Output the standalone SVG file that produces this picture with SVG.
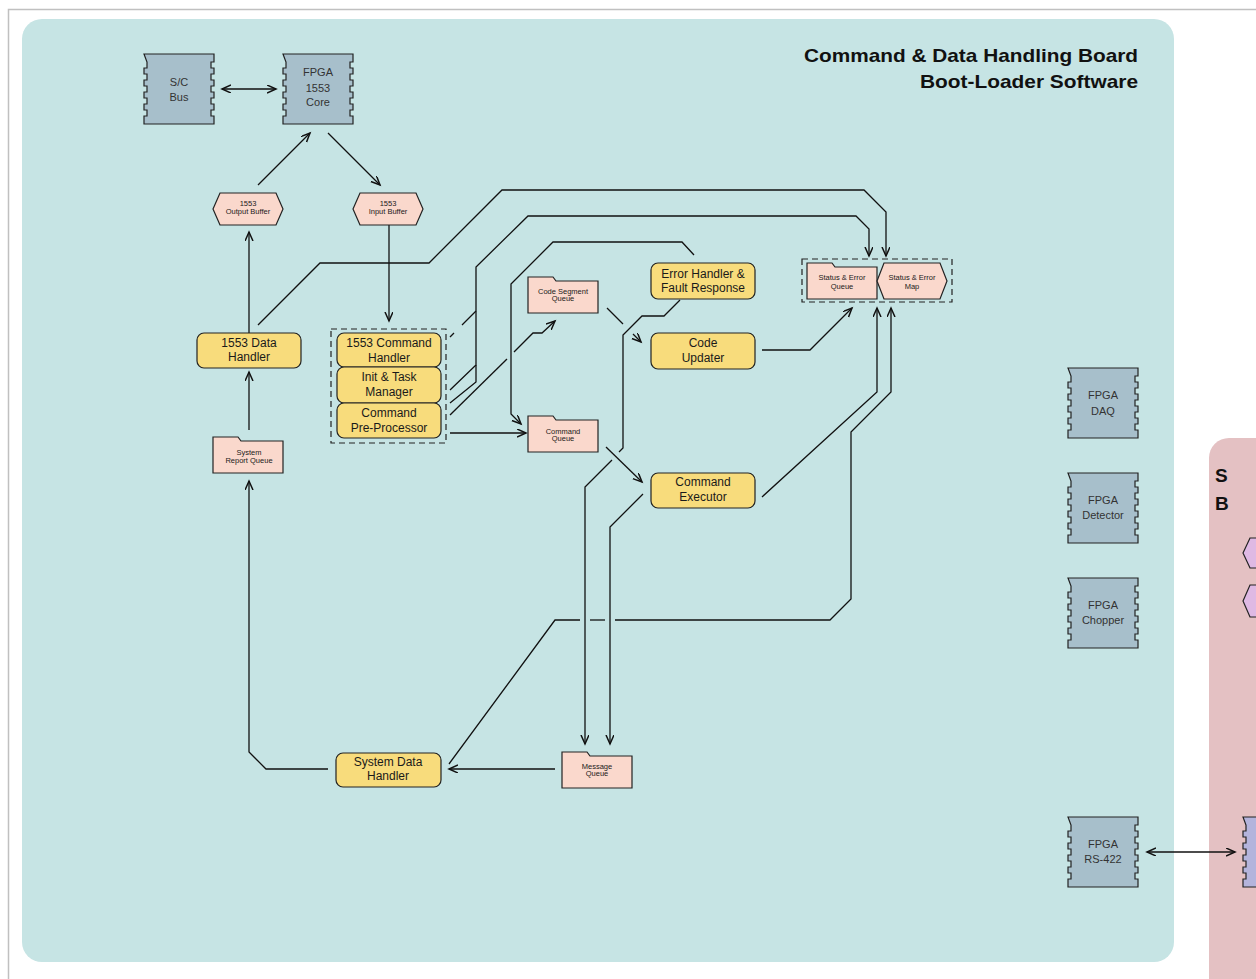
<svg xmlns="http://www.w3.org/2000/svg" width="1256" height="979" viewBox="0 0 1256 979">
<defs>
<style>
.chip{fill:#a7bfcb;stroke:#222;stroke-width:1.2}
.yb{fill:#f8dc7c;stroke:#222;stroke-width:1.2}
.q{fill:#fad8cc;stroke:#222;stroke-width:1.2}
.pur{fill:#dfb9e4;stroke:#222;stroke-width:1.2}
.t{font-family:"Liberation Sans",Arial,sans-serif;font-size:12px;fill:#1a1a1a;text-anchor:middle}
.ct{font-family:"Liberation Sans",Arial,sans-serif;font-size:11px;fill:#333;text-anchor:middle}
.s{font-family:"Liberation Sans",Arial,sans-serif;font-size:7.5px;fill:#1a1a1a;text-anchor:middle}
.ti{font-family:"Liberation Sans",Arial,sans-serif;font-size:19px;font-weight:bold;fill:#111}
.c{fill:none;stroke:#111;stroke-width:1.3}
.a{marker-end:url(#ah)}
.dash{fill:none;stroke:#222;stroke-width:1.2;stroke-dasharray:6 4}
</style>
<marker id="ah" markerWidth="12" markerHeight="12" refX="9" refY="4" orient="auto" markerUnits="userSpaceOnUse"><path d="M0,0 L9,4 L0,8" fill="none" stroke="#111" stroke-width="1.5"/></marker>
<marker id="ahs" markerWidth="12" markerHeight="12" refX="9" refY="4" orient="auto-start-reverse" markerUnits="userSpaceOnUse"><path d="M0,0 L9,4 L0,8" fill="none" stroke="#111" stroke-width="1.5"/></marker>
<path id="chipP" d="M0,0 H70 V8 H67 V14 H70 V20 H67 V26 H70 V32 H67 V38 H70 V44 H67 V50 H70 V56 H67 V62 H70 V70 H0 V62 H3 V56 H0 V50 H3 V44 H0 V38 H3 V32 H0 V26 H3 V20 H0 V14 H3 V8 Z"/>
<path id="fold" d="M0,0 H25 L28,4 H70 V36 H0 Z"/>
<path id="hex" d="M7,0 H63 L70,16 L63,32 H7 L0,16 Z"/>
<path id="hex36" d="M7,0 H63 L70,18 L63,36 H7 L0,18 Z"/>
</defs>

<rect x="8.5" y="9.5" width="1400" height="1100" fill="#ffffff" stroke="#c0c0c0" stroke-width="1.5"/>
<rect id="cdh-panel" x="22" y="19" width="1152" height="943" rx="20" fill="#c6e4e4"/>
<rect id="sci-panel" x="1209" y="438" width="200" height="600" rx="20" fill="#e4c1c3"/>

<g id="title">
<text class="ti" x="1138" y="62" text-anchor="end" textLength="334" lengthAdjust="spacingAndGlyphs">Command &amp; Data Handling Board</text>
<text class="ti" x="1138" y="88" text-anchor="end" textLength="218" lengthAdjust="spacingAndGlyphs">Boot-Loader Software</text>
</g>
<g id="sci-title">
<text class="ti" x="1215" y="482">S</text>
<text class="ti" x="1215" y="510">B</text>
</g>

<g id="connectors">
<path class="c" d="M222,89 H276" marker-start="url(#ahs)" marker-end="url(#ahs)"/>
<path class="c a" d="M258,185 L310,133"/>
<path class="c a" d="M328,133 L380,185"/>
<path class="c a" d="M249,333 V232"/>
<path class="c a" d="M389,225 V321"/>
<path class="c a" d="M249,430 V372"/>
<path class="c a" d="M328,769 H266 L249,752 V481"/>
<path class="c a" d="M555,769 H449"/>
<path class="c a" d="M258,325 L320,263 H429 L502,190 H864 L886,212 V256"/>
<path class="c a" d="M450,390 L476,365 V267 L528,216 H856 L869,229 V256"/>
<path class="c" d="M450,403 L476,382 V365"/>
<path class="c" d="M450,337 L454,333 M462,325 L476,311"/>
<path class="c" d="M450,415 L507,359"/>
<path class="c a" d="M514,352 L533,333 H542 L555,321"/>
<path class="c a" d="M450,433 H526"/>
<path class="c a" d="M694,255 L682,242 H553 L511,284 V414 L521,424"/>
<path class="c" d="M607,308 L623,324"/>
<path class="c a" d="M633,334 L641,342"/>
<path class="c" d="M680,300 L664,316 H642 L623,335 V448 L619,452"/>
<path class="c a" d="M612,460 L585,487 V744"/>
<path class="c a" d="M606,447 L642,482"/>
<path class="c a" d="M643,494 L610,527 V744"/>
<path class="c a" d="M762,350 H810 L852,308"/>
<path class="c a" d="M762,497 L877,392 V308"/>
<path class="c" d="M449,764 L555,620 H580"/>
<path class="c" d="M590,620 H605"/>
<path class="c a" d="M615,620 H830 L851,599 V432 L891,392 V308"/>
<path class="c" d="M1147,852 H1235" marker-start="url(#ahs)" marker-end="url(#ahs)"/>
</g>

<g id="dash-groups">
<rect class="dash" x="331" y="329" width="115" height="114"/>
<rect class="dash" x="802" y="259" width="150" height="43"/>
</g>

<g id="sc-bus"><use href="#chipP" x="144" y="54" class="chip"/><text class="ct" x="179" y="86">S/C</text><text class="ct" x="179" y="101">Bus</text></g>
<g id="fpga-1553"><use href="#chipP" x="283" y="54" class="chip"/><text class="ct" x="318" y="76">FPGA</text><text class="ct" x="318" y="92">1553</text><text class="ct" x="318" y="106">Core</text></g>
<g id="fpga-daq"><use href="#chipP" x="1068" y="368" class="chip"/><text class="ct" x="1103" y="399">FPGA</text><text class="ct" x="1103" y="415">DAQ</text></g>
<g id="fpga-det"><use href="#chipP" x="1068" y="473" class="chip"/><text class="ct" x="1103" y="504">FPGA</text><text class="ct" x="1103" y="519">Detector</text></g>
<g id="fpga-chop"><use href="#chipP" x="1068" y="578" class="chip"/><text class="ct" x="1103" y="609">FPGA</text><text class="ct" x="1103" y="624">Chopper</text></g>
<g id="fpga-rs422"><use href="#chipP" x="1068" y="817" class="chip"/><text class="ct" x="1103" y="848">FPGA</text><text class="ct" x="1103" y="863">RS-422</text></g>
<g id="sci-chip"><use href="#chipP" x="1243" y="817" style="fill:#b4b4dc;stroke:#222;stroke-width:1.2"/></g>
<g id="sci-hex1"><path class="pur" d="M1250,538 H1300 L1307,553 L1300,568 H1250 L1243,553 Z"/></g>
<g id="sci-hex2"><path class="pur" d="M1250,585 H1300 L1307,601 L1300,617 H1250 L1243,601 Z"/></g>

<g id="out-buf"><use href="#hex" x="213" y="193" class="q"/><text class="s" x="248" y="206">1553</text><text class="s" x="248" y="214">Output Buffer</text></g>
<g id="in-buf"><use href="#hex" x="353" y="193" class="q"/><text class="s" x="388" y="206">1553</text><text class="s" x="388" y="214">Input Buffer</text></g>

<g id="data-handler"><rect class="yb" x="197" y="333" width="104" height="35" rx="7"/><text class="t" x="249" y="347">1553 Data</text><text class="t" x="249" y="361">Handler</text></g>
<g id="cmd-handler"><rect class="yb" x="337" y="333" width="104" height="34" rx="7"/><text class="t" x="389" y="347">1553 Command</text><text class="t" x="389" y="362">Handler</text></g>
<g id="init-task"><rect class="yb" x="337" y="367" width="104" height="36" rx="7"/><text class="t" x="389" y="381">Init &amp; Task</text><text class="t" x="389" y="396">Manager</text></g>
<g id="pre-proc"><rect class="yb" x="337" y="403" width="104" height="35" rx="7"/><text class="t" x="389" y="417">Command</text><text class="t" x="389" y="432">Pre-Processor</text></g>
<g id="err-handler"><rect class="yb" x="651" y="263" width="104" height="36" rx="7"/><text class="t" x="703" y="278">Error Handler &amp;</text><text class="t" x="703" y="292">Fault Response</text></g>
<g id="code-updater"><rect class="yb" x="651" y="333" width="104" height="36" rx="7"/><text class="t" x="703" y="347">Code</text><text class="t" x="703" y="362">Updater</text></g>
<g id="cmd-exec"><rect class="yb" x="651" y="473" width="104" height="35" rx="7"/><text class="t" x="703" y="486">Command</text><text class="t" x="703" y="501">Executor</text></g>
<g id="sys-data-handler"><rect class="yb" x="336" y="753" width="105" height="34" rx="7"/><text class="t" x="388" y="766">System Data</text><text class="t" x="388" y="780">Handler</text></g>

<g id="code-seg-q"><use href="#fold" x="528" y="277" class="q"/><text class="s" x="563" y="294">Code Segment</text><text class="s" x="563" y="301">Queue</text></g>
<g id="cmd-q"><use href="#fold" x="528" y="416" class="q"/><text class="s" x="563" y="434">Command</text><text class="s" x="563" y="441">Queue</text></g>
<g id="status-q"><use href="#fold" x="807" y="263" class="q"/><text class="s" x="842" y="280">Status &amp; Error</text><text class="s" x="842" y="289">Queue</text></g>
<g id="status-map"><use href="#hex36" x="877" y="263" class="q"/><text class="s" x="912" y="280">Status &amp; Error</text><text class="s" x="912" y="289">Map</text></g>
<g id="sys-report-q"><use href="#fold" x="213" y="437" class="q"/><text class="s" x="249" y="455">System</text><text class="s" x="249" y="463">Report Queue</text></g>
<g id="msg-q"><use href="#fold" x="562" y="752" class="q"/><text class="s" x="597" y="769">Message</text><text class="s" x="597" y="776">Queue</text></g>
</svg>
